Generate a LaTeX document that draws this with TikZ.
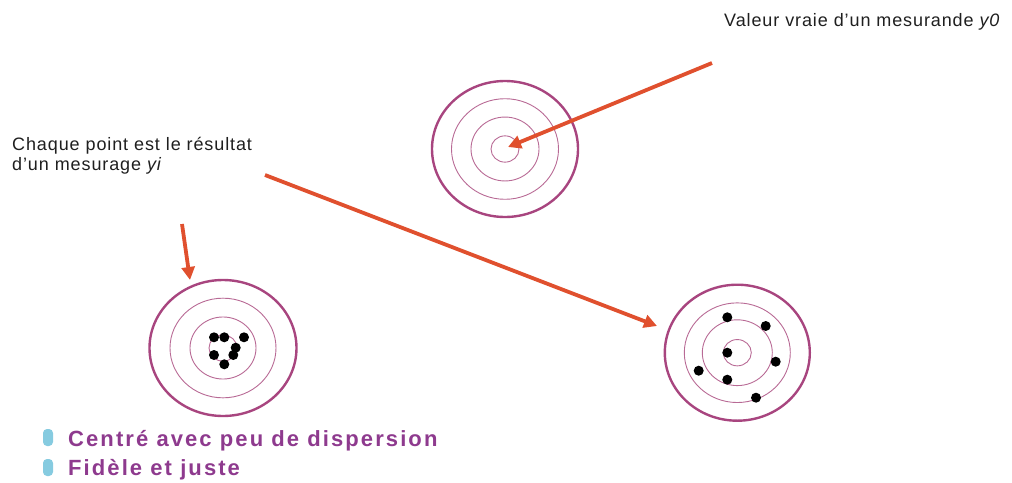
\documentclass[tikz,border=0pt]{standalone}
\usepackage{fontspec}
\setmainfont{Liberation Sans}
\usetikzlibrary{arrows.meta}
\definecolor{ring}{HTML}{A8457F}
\definecolor{ringlt}{HTML}{B86A95}
\definecolor{arr}{HTML}{E0502E}
\definecolor{lbl}{HTML}{8E3A8E}
\definecolor{bul}{HTML}{86CBE0}
\tikzset{
  outerring/.style={draw=ring, line width=2.4pt},
  innerring/.style={draw=ringlt, line width=0.9pt},
  shot/.style={fill=black, draw=none},
  pointer/.style={draw=arr, line width=3.8pt, -{Triangle[length=13pt,width=13pt]}},
  note/.style={font=\fontsize{18}{20}\selectfont\addfontfeature{LetterSpace=5}, text=black!88, anchor=west, inner sep=0pt},
  legend/.style={font=\fontsize{22}{24}\selectfont\bfseries\addfontfeature{LetterSpace=9.5}, text=lbl, anchor=west, inner sep=0pt},
  bulletmark/.style={fill=bul, draw=none, rounded corners=4pt}
}
\begin{document}
\begin{tikzpicture}[x=1pt,y=-1pt]
\useasboundingbox (0,0) rectangle (1012,482);
% top target
\foreach \r in {14,34,53.5} {\draw[innerring] (505,149) ellipse ({\r} and {\r*0.94});}
\draw[outerring] (505,149) ellipse (73 and 68);
\coordinate (c0) at (508,147);
% left target
\foreach \r in {14,33,53} {\draw[innerring] (223,348) ellipse ({\r} and {\r*0.94});}
\draw[outerring] (223,348) ellipse (73.5 and 68);
\foreach \p in {(214,337.3),(224.3,337.3),(244,337.3),(235.7,347.7),(233.3,355),(214,355),(224.3,364.3)} {\fill[shot] \p circle (5);}
\coordinate (c1) at (190,280);
% right target
\foreach \r in {14,35,53} {\draw[innerring] (737.3,352.7) ellipse ({\r} and {\r*0.94});}
\draw[outerring] (737.3,352.7) ellipse (72.5 and 68);
\foreach \p in {(727.3,317.3),(765.7,326),(727.3,352.7),(775.7,361.7),(698.7,370.7),(727.3,379.7),(756,397.7)} {\fill[shot] \p circle (5);}
\coordinate (c2) at (657,326);
% labels
\node[note] (lv) at (724,22) {Valeur vraie d’un mesurande \textit{y0}};
\node[note, align=left, anchor=north west] (lc) at (12,137) {Chaque point est le résultat\\d’un mesurage \textit{yi}};
\coordinate (s0) at (712,63);
\coordinate (s1) at (182,224);
\coordinate (s2) at (265,175);
\draw[pointer] (s0) -- (c0);
\draw[pointer] (s1) -- (c1);
\draw[pointer] (s2) -- (c2);
% legend
\fill[bulletmark] (43,429) rectangle (53,446);
\fill[bulletmark] (43,459) rectangle (53,476);
\node[legend] (l1) at (68,441) {Centré avec peu de dispersion};
\node[legend] (l2) at (68,470) {Fidèle et juste};
\end{tikzpicture}
\end{document}
